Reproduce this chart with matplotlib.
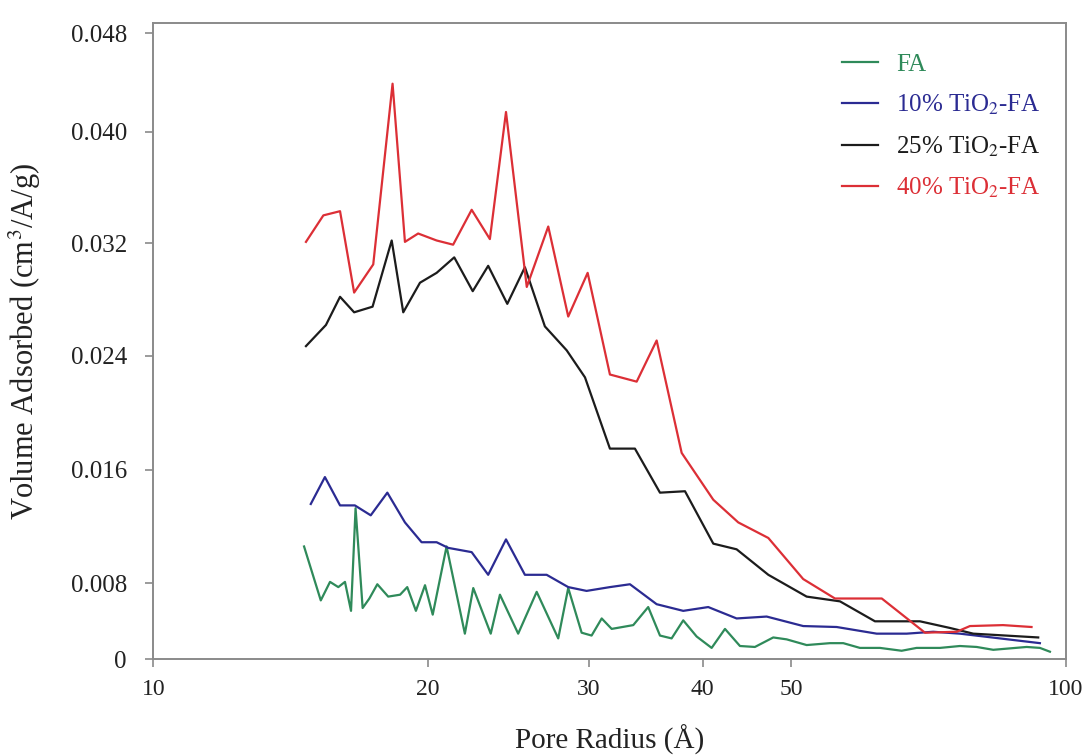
import numpy as np
import matplotlib
matplotlib.use("Agg")
import matplotlib.pyplot as plt
from matplotlib.ticker import FixedLocator, FixedFormatter, NullLocator

plt.rcParams["font.family"] = ["Liberation Serif", "DejaVu Serif"]
plt.rcParams["mathtext.fontset"] = "stix"

# Pore radius (Å) and volume adsorbed (cm3/Å/g)
r_fa = [14.63, 15.26, 15.62, 15.95, 16.22, 16.47, 16.66, 16.96, 17.25, 17.60,
        18.09, 18.64, 18.98, 19.40, 19.85, 20.24, 20.96, 21.95, 22.42, 23.43,
        23.98, 25.11, 26.31, 27.78, 28.49, 29.47, 30.22, 31.00, 31.79, 33.57,
        34.86, 35.91, 36.98, 38.08, 39.39, 40.91, 42.31, 43.94, 45.63, 47.79,
        49.43, 51.99, 55.14, 57.02, 59.47, 62.55, 66.07, 68.61, 72.77, 76.53,
        79.83, 83.25, 90.57, 93.65, 96.05]
v_fa = [0.0106, 0.0062, 0.0081, 0.0076, 0.0081, 0.0051, 0.0133, 0.0054, 0.0064, 0.0079,
        0.0066, 0.0068, 0.0076, 0.0051, 0.0078, 0.0047, 0.0106, 0.0027, 0.0075, 0.0027,
        0.0068, 0.0027, 0.0071, 0.0022, 0.0075, 0.0028, 0.0025, 0.0043, 0.0032, 0.0036,
        0.0055, 0.0025, 0.0022, 0.0041, 0.0024, 0.0012, 0.0032, 0.0014, 0.0013, 0.0023,
        0.0021, 0.0015, 0.0017, 0.0017, 0.0012, 0.0012, 0.0009, 0.0012, 0.0012, 0.0014,
        0.0013, 0.0010, 0.0013, 0.0012, 0.0008]

r_10 = [14.88, 15.42, 16.02, 16.63, 17.31, 18.05, 18.87, 19.68, 20.44, 21.05,
        22.33, 23.28, 24.35, 25.54, 26.98, 28.49, 29.84, 31.65, 33.29, 35.61,
        38.08, 40.56, 43.57, 47.00, 51.54, 56.08, 62.04, 66.91, 71.55, 76.53, 93.65]
v_10 = [0.0136, 0.0155, 0.0135, 0.0135, 0.0128, 0.0144, 0.0123, 0.0109, 0.0109, 0.0105,
        0.0102, 0.0086, 0.0111, 0.0086, 0.0086, 0.0076, 0.0072, 0.0076, 0.0079, 0.0058,
        0.0051, 0.0055, 0.0043, 0.0045, 0.0035, 0.0034, 0.0027, 0.0027, 0.0029, 0.0027, 0.0017]

r_25 = [14.70, 15.46, 16.02, 16.60, 17.39, 18.25, 18.79, 19.60, 20.44, 21.37,
        22.39, 23.28, 24.43, 25.54, 26.86, 28.38, 29.72, 31.65, 33.71, 35.91,
        38.25, 41.08, 43.57, 47.20, 51.99, 56.55, 61.77, 69.19, 74.63, 79.15, 93.25]
v_25 = [0.0247, 0.0262, 0.0282, 0.0271, 0.0275, 0.0322, 0.0271, 0.0292, 0.0299, 0.0310,
        0.0286, 0.0304, 0.0277, 0.0303, 0.0261, 0.0244, 0.0225, 0.0175, 0.0175, 0.0144,
        0.0145, 0.0108, 0.0104, 0.0086, 0.0066, 0.0061, 0.0040, 0.0040, 0.0033, 0.0027, 0.0023]

r_40 = [14.70, 15.36, 16.02, 16.60, 17.42, 18.29, 18.87, 19.51, 20.44, 21.31,
        22.33, 23.38, 24.35, 25.66, 27.09, 28.49, 29.92, 31.65, 33.86, 35.61,
        37.93, 41.08, 43.75, 47.20, 51.54, 55.84, 62.84, 70.08, 75.91, 78.49, 85.32, 91.69]
v_40 = [0.0321, 0.0340, 0.0343, 0.0285, 0.0305, 0.0439, 0.0321, 0.0327, 0.0322, 0.0319,
        0.0344, 0.0323, 0.0416, 0.0289, 0.0332, 0.0268, 0.0299, 0.0227, 0.0222, 0.0251,
        0.0172, 0.0139, 0.0123, 0.0112, 0.0083, 0.0064, 0.0064, 0.0028, 0.0029, 0.0035,
        0.0036, 0.0034]

labels = ["FA", "10% TiO$_2$-FA", "25% TiO$_2$-FA", "40% TiO$_2$-FA"]
colors = ["#2f8a5a", "#2b2b92", "#1c1c1c", "#dc2f36"]

x_ticks = [10, 20, 30, 40, 50, 100]
y_ticks = [0, 0.008, 0.016, 0.024, 0.032, 0.040, 0.048]
y_tick_labels = ["0", "0.008", "0.016", "0.024", "0.032", "0.040", "0.048"]

# the original y axis is not evenly spaced: map ticks to their drawn heights
y_knots = [-1.0, 0.0, 0.008, 0.016, 0.024, 0.032, 0.040, 0.048, 1.0]
h_knots = [-9500.0, 0.0, 76.0, 189.3, 303.3, 416.0, 527.6, 626.0, 626.0 + 0.952 * 12300.0]


def fwd(v):
    return np.interp(v, y_knots, h_knots)


def inv(h):
    return np.interp(h, h_knots, y_knots)


fig = plt.figure(figsize=(10.9, 7.56), dpi=100)
ax = fig.add_axes([0.1406, 0.1279, 0.8373, 0.8421])

for r, v, lab, c in zip([r_fa, r_10, r_25, r_40], [v_fa, v_10, v_25, v_40], labels, colors):
    ax.plot(r, v, color=c, lw=1.6, label=lab)

ax.set_xscale("log")
ax.set_yscale("function", functions=(fwd, inv))
ax.set_xlim(10, 100)
ax.set_ylim(0, 0.04886)

ax.xaxis.set_major_locator(FixedLocator(x_ticks))
ax.xaxis.set_major_formatter(FixedFormatter([str(t) for t in x_ticks]))
ax.xaxis.set_minor_locator(NullLocator())
ax.yaxis.set_major_locator(FixedLocator(y_ticks))
ax.yaxis.set_major_formatter(FixedFormatter(y_tick_labels))
ax.yaxis.set_minor_locator(NullLocator())

for s in ax.spines.values():
    s.set_color("#8a8a8a")
    s.set_linewidth(1.4)

ax.tick_params(axis="both", direction="out", color="#8a8a8a", width=1.2, length=6)
ax.tick_params(axis="y", labelsize=18, pad=13, labelcolor="#222222")
ax.tick_params(axis="x", labelsize=17, pad=8, labelcolor="#222222")

ax.set_xlabel("Pore Radius (Å)", fontsize=21, labelpad=18, color="#222222")
ax.set_ylabel("Volume Adsorbed (cm$^3$/A/g)", fontsize=22, labelpad=20, color="#222222")

ax.legend(loc="upper left", bbox_to_anchor=(0.7305, 0.987), frameon=False,
          fontsize=18, labelcolor="linecolor", handlelength=1.44,
          handletextpad=0.7, labelspacing=0.68)

fig.savefig("out.png", dpi=100)
